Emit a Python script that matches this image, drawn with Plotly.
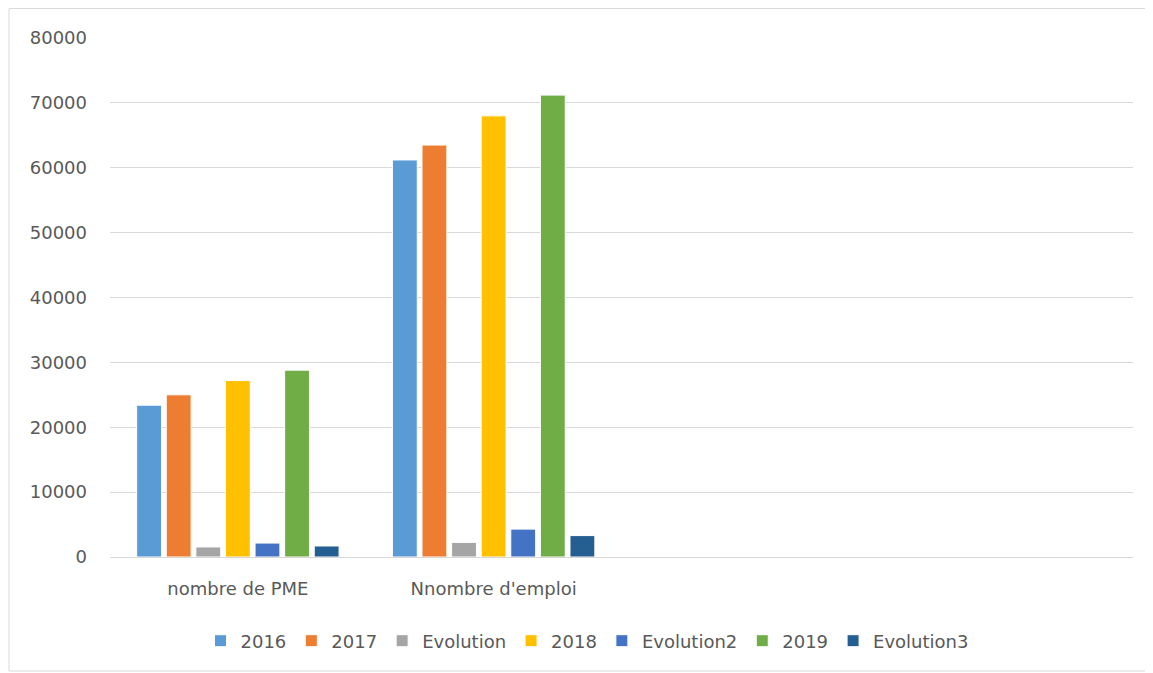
import plotly.graph_objects as go

categories = ["nombre de PME", "Nnombre d'emploi", " ", "  "]
series_names = ["2016", "2017", "Evolution", "2018", "Evolution2", "2019", "Evolution3"]
v2016 = [23400, 61200, None, None]
v2017 = [25000, 63500, None, None]
vevol = [1550, 2250, None, None]
v2018 = [27200, 68000, None, None]
vevol2 = [2150, 4300, None, None]
v2019 = [28800, 71200, None, None]
vevol3 = [1700, 3300, None, None]
series_values = [v2016, v2017, vevol, v2018, vevol2, v2019, vevol3]
colors = ["#5B9BD5", "#ED7D31", "#A5A5A5", "#FFC000", "#4472C4", "#70AD47", "#255E91"]
y_ticks = [0, 10000, 20000, 30000, 40000, 50000, 60000, 70000, 80000]

# page body has an 8px margin, so figure coords = screen coords - 8
OFF = 8
W, H = 1153 - OFF, 673 - OFF
L, R, T, B = 110 - OFF, 20, 38 - OFF, 116
pw, ph = W - L - R, H - T - B

fig = go.Figure()
for name, vals, col in zip(series_names, series_values, colors):
    fig.add_trace(go.Bar(x=categories, y=vals, name=name,
                         marker=dict(color=col, line=dict(color="white", width=1))))

def sx(px):
    return (px - OFF - L) / pw

def sy(py):
    return (H - B - (py - OFF)) / ph

FONT = "DejaVu Sans, Open Sans, sans-serif"
fig.update_layout(
    width=W, height=H,
    margin=dict(l=L, r=R, t=T, b=B),
    plot_bgcolor="white", paper_bgcolor="white",
    barmode="group", bargap=0.19, bargroupgap=0.16,
    font=dict(family=FONT, color="#595959", size=18),
    xaxis=dict(type="category", categoryorder="array", categoryarray=categories,
               showgrid=False, showline=True, linecolor="#d9d9d9", linewidth=1,
               ticks="", tickfont=dict(size=18, color="#595959"), ticklabelstandoff=15),
    yaxis=dict(range=[0, 80000], tickvals=y_ticks, ticktext=[str(v) for v in y_ticks],
               showgrid=True, gridcolor="#d9d9d9", gridwidth=1, zeroline=False,
               showline=False, ticks="", tickfont=dict(size=18, color="#595959"),
               ticklabelstandoff=22),
    legend=dict(orientation="h", x=sx(587), xanchor="center",
                y=sy(641), yanchor="middle",
                font=dict(size=18, color="#595959"), traceorder="normal"),
    showlegend=True,
    shapes=[dict(type="rect", xref="paper", yref="paper",
                 x0=sx(9), x1=sx(1151),
                 y0=sy(671), y1=sy(8.5),
                 line=dict(color="#d9d9d9", width=1), fillcolor="rgba(0,0,0,0)", layer="below")],
)

fig.write_html("out.html")
